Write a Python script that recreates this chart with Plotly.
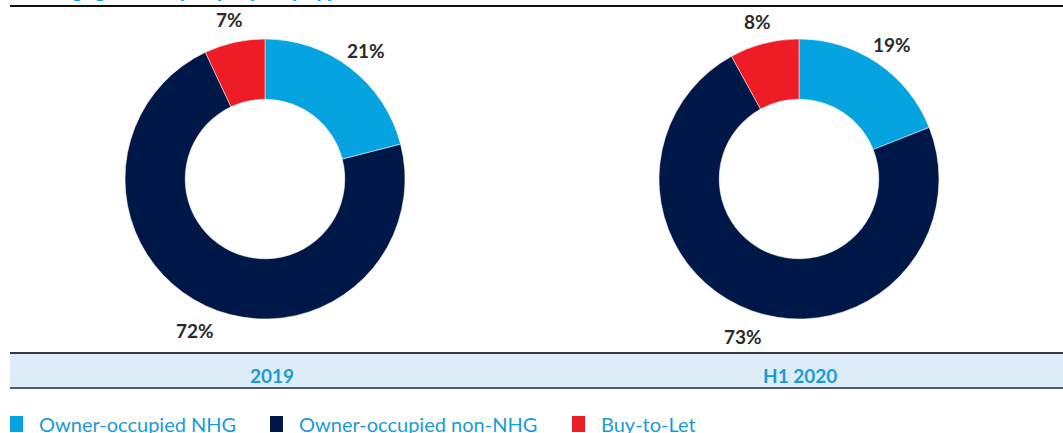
import math
import plotly.graph_objects as go

categories = ["Owner-occupied NHG", "Owner-occupied non-NHG", "Buy-to-Let"]
periods = ["2019", "H1 2020"]
values_2019 = [21, 72, 7]
values_h1_2020 = [19, 73, 8]
colors = ["#05a3df", "#001847", "#ee1c25"]

W, H = 1063, 433
fig = go.Figure()

centers = [(265, 179), (799, 179)]
R = 140
series = [values_2019, values_h1_2020]

annotations = []
for (cx, cy), vals in zip(centers, series):
    fig.add_trace(go.Pie(
        labels=categories, values=vals, hole=0.57, sort=False,
        direction="clockwise", rotation=0,
        marker=dict(colors=colors, line=dict(color="white", width=0.5)),
        textinfo="none", hoverinfo="label+percent", showlegend=False,
        domain=dict(x=[(cx - R) / W, (cx + R) / W], y=[1 - (cy + R) / H, 1 - (cy - R) / H]),
    ))
    total = sum(vals)
    cum = 0
    for v in vals:
        mid = (cum + v / 2) / total * 2 * math.pi
        cum += v
        rl = R + 25
        px = cx + rl * math.sin(mid)
        py = cy - rl * math.cos(mid) + 2
        annotations.append(dict(
            x=px / W, y=1 - py / H, xref="paper", yref="paper",
            text=f"<b>{v}%</b>", showarrow=False,
            font=dict(family="Lato", size=19, color="#2b2b2b"),
            xanchor="center", yanchor="middle"))

# period labels in band
for (cx, cy), p in zip([(272, 375), (800, 375)], periods):
    annotations.append(dict(
        x=cx / W, y=1 - cy / H, xref="paper", yref="paper",
        text=f"<b>{p}</b>", showarrow=False,
        font=dict(family="Lato", size=19, color="#1a9ad6"),
        xanchor="center", yanchor="middle"))

# clipped title at top
annotations.append(dict(
    x=20 / W, y=1 - 4 / H, xref="paper", yref="paper",
    text="<b>Mortgage loans per property type</b>", showarrow=False,
    font=dict(family="Lato", size=22, color="#05a3df"),
    xanchor="left", yanchor="bottom"))

shapes = [
    dict(type="line", xref="paper", yref="paper", x0=10 / W, x1=1, y0=1 - 6 / H, y1=1 - 6 / H,
         line=dict(color="#111111", width=2)),
    dict(type="rect", xref="paper", yref="paper", x0=10 / W, x1=1, y0=1 - 388 / H, y1=1 - 353 / H,
         fillcolor="#dcedf8", line=dict(width=0), layer="below"),
    dict(type="line", xref="paper", yref="paper", x0=10 / W, x1=1, y0=1 - 353 / H, y1=1 - 353 / H,
         line=dict(color="#3a3a3a", width=2)),
    dict(type="line", xref="paper", yref="paper", x0=10 / W, x1=1, y0=1 - 388 / H, y1=1 - 388 / H,
         line=dict(color="#5a5a5a", width=2)),
]

# legend built from categories
leg_x = [10, 270, 572]
for lx, cat, col in zip(leg_x, categories, colors):
    shapes.append(dict(type="rect", xref="paper", yref="paper",
                       x0=lx / W, x1=(lx + 13) / W, y0=1 - 432 / H, y1=1 - 416 / H,
                       fillcolor=col, line=dict(width=0)))
    annotations.append(dict(
        x=(lx + 27) / W, y=1 - 424 / H, xref="paper", yref="paper",
        text=cat, showarrow=False,
        font=dict(family="Lato", size=20, color="#1a9ad6"),
        xanchor="left", yanchor="middle"))

fig.update_layout(
    width=W, height=H, margin=dict(l=0, r=0, t=0, b=0),
    paper_bgcolor="white", plot_bgcolor="white",
    annotations=annotations, shapes=shapes, showlegend=False,
)
fig.write_html("out.html", config={"displayModeBar": False},
               post_script="document.body.style.margin='0';document.body.style.overflow='hidden';")
